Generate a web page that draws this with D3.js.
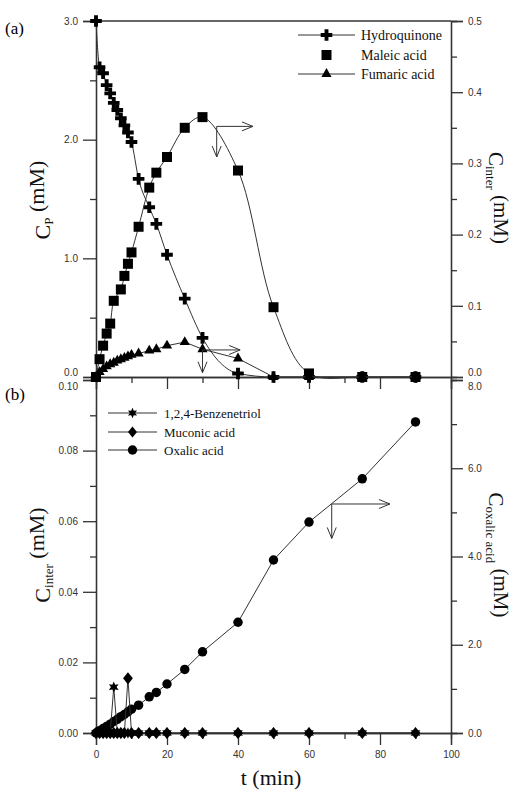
<!DOCTYPE html>
<html>
<head>
<meta charset="utf-8">
<script src="https://cdn.jsdelivr.net/npm/d3@7"></script>
<style>
  body { margin: 0; background: #fff; }
  svg { display: block; }
  .tick text { font-family: "Liberation Sans", Arial, sans-serif; font-size: 10px; fill: #333; }
  .axis path, .axis line { stroke: #333; stroke-width: 1.3; }
  .serif { font-family: "Liberation Serif", "Times New Roman", serif; }
</style>
</head>
<body>
<div id="chart"></div>
<script>
// tiempos de muestreo (min)
var timeA = [0, 1, 2, 3, 4, 5, 6, 7, 8, 9, 10, 12, 15, 17, 20, 25, 30, 40, 50, 60, 75, 90];
var timeMaleic = [0, 1, 2, 3, 4, 5, 7, 8, 9, 10, 12, 15, 17, 20, 25, 30, 40, 50, 60, 75, 90];

// panel (a)
var hydroquinone = [3.0, 2.61, 2.56, 2.46, 2.39, 2.31, 2.25, 2.18, 2.12, 2.06, 1.98, 1.67, 1.43, 1.29, 1.03, 0.66, 0.33, 0.03, 0, 0, 0, 0];
var maleic = [0, 0.025, 0.044, 0.061, 0.075, 0.107, 0.123, 0.142, 0.159, 0.175, 0.211, 0.266, 0.287, 0.309, 0.350, 0.365, 0.290, 0.098, 0.005, 0, 0];
var fumaric = [0, 0.007, 0.011, 0.015, 0.018, 0.020, 0.023, 0.025, 0.027, 0.029, 0.031, 0.033, 0.037, 0.039, 0.044, 0.049, 0.039, 0.026, 0, 0, 0, 0];

// panel (b)
var benzenetriol = [0, 0, 0, 0, 0, 0.013, 0, 0, 0, 0, 0, 0, 0, 0, 0, 0, 0, 0, 0, 0, 0, 0];
var muconic = [0, 0, 0, 0, 0, 0, 0, 0, 0, 0.0155, 0, 0, 0, 0, 0, 0, 0, 0, 0, 0, 0, 0];
var oxalic = [0, 0.05, 0.10, 0.15, 0.20, 0.26, 0.31, 0.37, 0.42, 0.48, 0.54, 0.63, 0.82, 0.92, 1.11, 1.44, 1.84, 2.51, 3.92, 4.78, 5.76, 7.05];

// ticks
var xTicks = [0, 20, 40, 60, 80, 100];
var xMinor = [10, 30, 50, 70, 90];
var yTicksA = [0, 1, 2, 3];
var yTicksA2 = [0, 0.1, 0.2, 0.3, 0.4, 0.5];
var yTicksB = [0, 0.02, 0.04, 0.06, 0.08, 0.10];
var yTicksB2 = [0, 2, 4, 6, 8];

var width = 514, height = 804;
var svg = d3.select("#chart").append("svg")
    .attr("width", width)
    .attr("height", height);

// escalas
var x = d3.scaleLinear().domain([0, 100]).range([96, 451]);
var yA = d3.scaleLinear().domain([0, 3]).range([377, 21]);
var yA2 = d3.scaleLinear().domain([0, 0.5]).range([377, 21]);
var yB = d3.scaleLinear().domain([0, 0.1]).range([733, 380]);
var yB2 = d3.scaleLinear().domain([0, 8]).range([733, 380]);

function zip(ts, vs) { return ts.map(function(t, i) { return { t: t, v: vs[i] }; }); }

// estrella de seis puntas
var star6 = {
    draw: function(context, size) {
        var r = Math.sqrt(size / 2.2), ri = r * 0.5;
        for (var i = 0; i < 12; i++) {
            var a = Math.PI / 6 * i - Math.PI / 2;
            var rr = i % 2 ? ri : r;
            if (i === 0) context.moveTo(rr * Math.cos(a), rr * Math.sin(a));
            else context.lineTo(rr * Math.cos(a), rr * Math.sin(a));
        }
        context.closePath();
    }
};
// rombo más ancho que el de d3
var rhombus = {
    draw: function(context, size) {
        var h = Math.sqrt(size / 1.6), w = h * 0.8;
        context.moveTo(0, -h);
        context.lineTo(w, 0);
        context.lineTo(0, h);
        context.lineTo(-w, 0);
        context.closePath();
    }
};

// ejes
function addAxis(axis, tx, ty) {
    var g = svg.append("g").attr("class", "axis")
        .attr("transform", "translate(" + tx + "," + ty + ")")
        .call(axis);
    g.select(".domain").attr("stroke", "#333");
    return g;
}

// panel (a)
var gA = addAxis(d3.axisLeft(yA).tickValues(yTicksA).tickSize(13).tickPadding(5).tickFormat(d3.format(".1f")), 96, 0);
addAxis(d3.axisLeft(yA).tickValues([0.5, 1.5, 2.5]).tickSize(6).tickFormat(""), 96, 0);
var gA2 = addAxis(d3.axisRight(yA2).tickValues(yTicksA2).tickSize(12).tickPadding(5).tickFormat(d3.format(".1f")), 451, 0);
addAxis(d3.axisRight(yA2).tickValues([0.05, 0.15, 0.25, 0.35, 0.45]).tickSize(6).tickFormat(""), 451, 0);
addAxis(d3.axisBottom(x).tickValues(xTicks).tickSize(12).tickFormat(""), 0, 377);
addAxis(d3.axisBottom(x).tickValues(xMinor).tickSize(6).tickFormat(""), 0, 377);
svg.append("line").attr("x1", x(0)).attr("x2", x(100)).attr("y1", yA(3)).attr("y2", yA(3))
    .attr("stroke", "#333").attr("stroke-width", 1.3);

// panel (b)
var gB = addAxis(d3.axisLeft(yB).tickValues(yTicksB).tickSize(13).tickPadding(5).tickFormat(d3.format(".2f")), 96, 0);
addAxis(d3.axisLeft(yB).tickValues([0.01, 0.03, 0.05, 0.07, 0.09]).tickSize(6).tickFormat(""), 96, 0);
var gB2 = addAxis(d3.axisRight(yB2).tickValues(yTicksB2).tickSize(12).tickPadding(5).tickFormat(d3.format(".1f")), 451, 0);
addAxis(d3.axisRight(yB2).tickValues([1, 3, 5, 7]).tickSize(6).tickFormat(""), 451, 0);
addAxis(d3.axisBottom(x).tickValues(xTicks).tickSize(12).tickPadding(6), 0, 733);
addAxis(d3.axisBottom(x).tickValues(xMinor).tickSize(6).tickFormat(""), 0, 733);

// separar las etiquetas que se juntan entre paneles
gA.selectAll(".tick").filter(function(d) { return d === 0; }).select("text").attr("dy", "-0.2em");
gA2.selectAll(".tick").filter(function(d) { return d === 0; }).select("text").attr("dy", "-0.2em");
gB.selectAll(".tick").filter(function(d) { return d === 0.1; }).select("text").attr("dy", "0.95em");
gB2.selectAll(".tick").filter(function(d) { return d === 8; }).select("text").attr("dy", "0.95em");

// series
function drawSeries(data, yScale, curve, symType, symSize, withLine) {
    var g = svg.append("g");
    if (withLine) {
        g.append("path")
            .datum(data)
            .attr("fill", "none")
            .attr("stroke", "#333")
            .attr("stroke-width", 1)
            .attr("d", d3.line().curve(curve)
                .x(function(d) { return x(d.t); })
                .y(function(d) { return yScale(d.v); }));
    }
    g.selectAll("path.m").data(data).enter().append("path")
        .attr("class", "m")
        .attr("transform", function(d) { return "translate(" + x(d.t) + "," + yScale(d.v) + ")"; })
        .attr("d", d3.symbol().type(symType).size(symSize))
        .attr("fill", "#000");
}

drawSeries(zip(timeA, hydroquinone), yA, d3.curveMonotoneX, d3.symbolCross, 75, true);
drawSeries(zip(timeMaleic, maleic), yA2, d3.curveCatmullRom.alpha(0.5), d3.symbolSquare, 100, true);
drawSeries(zip(timeA, fumaric), yA2, d3.curveLinear, d3.symbolTriangle, 45, true);

drawSeries(zip(timeA, oxalic), yB2, d3.curveLinear, d3.symbolCircle, 70, true);
drawSeries(zip(timeA, benzenetriol), yB, d3.curveLinear, star6, 70, true);
drawSeries(zip(timeA, muconic), yB, d3.curveLinear, rhombus, 60, true);

// flechas
var arrows = [
    { t: 34, v: 0.352, t2: 44.2, v2: 0.309, y: yA2 },
    { t: 30, v: 0.038, t2: 40.6, v2: 0.006, y: yA2 },
    { t: 66.4, v: 5.19, t2: 82.8, v2: 4.41, y: yB2 }
];
arrows.forEach(function(a) {
    var x0 = x(a.t), y0 = a.y(a.v), x1 = x(a.t2), y1 = a.y(a.v2);
    var d = "M" + x0 + "," + y0 + "H" + x1 +
        "M" + (x1 - 11) + "," + (y0 - 4.5) + "L" + x1 + "," + y0 + "L" + (x1 - 11) + "," + (y0 + 4.5) +
        "M" + x0 + "," + y0 + "V" + y1 +
        "M" + (x0 - 4.5) + "," + (y1 - 11) + "L" + x0 + "," + y1 + "L" + (x0 + 4.5) + "," + (y1 - 11);
    svg.append("path").attr("d", d).attr("fill", "none").attr("stroke", "#333").attr("stroke-width", 1);
});

// leyendas
function legend(items, lx0, lx1, tx, ys, fontSize) {
    items.forEach(function(it, i) {
        var g = svg.append("g");
        if (it.line) {
            g.append("line").attr("x1", lx0).attr("x2", lx1).attr("y1", ys[i]).attr("y2", ys[i])
                .attr("stroke", "#333").attr("stroke-width", 1);
        }
        g.append("path")
            .attr("transform", "translate(" + ((lx0 + lx1) / 2) + "," + ys[i] + ")")
            .attr("d", d3.symbol().type(it.sym).size(it.size))
            .attr("fill", "#000");
        g.append("text").attr("class", "serif")
            .attr("x", tx).attr("y", ys[i]).attr("dy", "0.35em")
            .attr("font-size", fontSize)
            .attr("fill", "#111")
            .text(it.name);
    });
}
legend([
    { name: "Hydroquinone", sym: d3.symbolCross, size: 75, line: true },
    { name: "Maleic acid", sym: d3.symbolSquare, size: 100, line: false },
    { name: "Fumaric acid", sym: d3.symbolTriangle, size: 45, line: true }
], 298, 355, 361, [35, 55, 74], 14);
legend([
    { name: "1,2,4-Benzenetriol", sym: star6, size: 60, line: true },
    { name: "Muconic acid", sym: rhombus, size: 50, line: true },
    { name: "Oxalic acid", sym: d3.symbolCircle, size: 70, line: true }
], 108, 157, 164, [413, 432, 450], 13);

// títulos
function title(tx, ty, rot, main, sub, rest, size) {
    var t = svg.append("text").attr("class", "serif")
        .attr("transform", "translate(" + tx + "," + ty + ") rotate(" + rot + ")")
        .attr("text-anchor", "middle")
        .attr("font-size", size)
        .attr("fill", "#111");
    t.append("tspan").text(main);
    if (sub) t.append("tspan").attr("dy", "0.25em").attr("font-size", 13).text(sub);
    t.append("tspan").attr("dy", sub ? "-0.4em" : 0).text(rest);
}
title(50, 200, -90, "C", "P", " (mM)", 22);
title(489, 198, 90, "C", "inter", " (mM)", 21);
title(50, 555, -90, "C", "inter", " (mM)", 22);
title(489, 555, 90, "C", "oxalic acid", " (mM)", 21);
title(271, 785, 0, "t (min)", null, "", 22);

svg.append("text").attr("class", "serif").attr("x", 5).attr("y", 34)
    .attr("font-size", 17).text("(a)");
svg.append("text").attr("class", "serif").attr("x", 5).attr("y", 400)
    .attr("font-size", 17).text("(b)");
</script>
</body>
</html>
